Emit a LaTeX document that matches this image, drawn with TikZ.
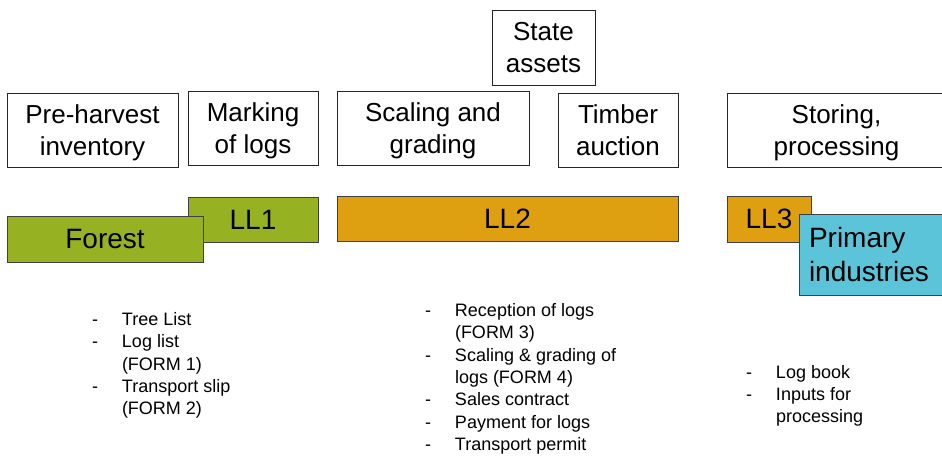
\documentclass[tikz,border=0pt]{standalone}
\usepackage{fontspec}
\setmainfont{Liberation Sans}
\definecolor{llgreen}{RGB}{150,178,34}
\definecolor{llorange}{RGB}{222,160,16}
\definecolor{llcyan}{RGB}{92,196,216}
\newcommand\tbtext[2]{\raisebox{6.7pt}[0pt][0pt]{\begin{tabular}[t]{@{}c@{}}#1\\#2\end{tabular}}}
\begin{document}
\begin{tikzpicture}[x=1pt,y=-1pt,
  topbox/.style={draw=black!85, line width=0.8pt, fill=white, anchor=north west,
    inner sep=0pt, outer sep=0pt, align=center, font=\fontsize{26}{32}\selectfont},
  levelbox/.style={draw=black!75, line width=0.8pt, anchor=north west,
    inner sep=0pt, outer sep=0pt, font=\fontsize{28}{34}\selectfont},
  doclist/.style={anchor=base west, inner sep=0pt, outer sep=0pt,
    font=\fontsize{18}{22.3}\selectfont}]
\useasboundingbox (0,0) rectangle (942,455);
\clip (0,0) rectangle (942,455);
% top boxes
\node[topbox, minimum width=171pt, minimum height=74pt] (pre) at (7,93) {\tbtext{Pre-harvest}{inventory}};
\node[topbox, minimum width=130pt, minimum height=74pt] (mark) at (188,91) {\tbtext{Marking}{of logs}};
\node[topbox, minimum width=103pt, minimum height=75pt] (state) at (492,10) {\tbtext{State}{assets}};
\node[topbox, minimum width=192pt, minimum height=74pt] (scale) at (337,91) {\tbtext{Scaling and}{grading}};
\node[topbox, minimum width=120pt, minimum height=74pt] (timber) at (558,93) {\tbtext{Timber}{auction}};
\node[topbox, minimum width=219pt, minimum height=74pt] (store) at (727,93) {\tbtext{Storing,}{processing}};
% level boxes
\node[levelbox, fill=llgreen, minimum width=130pt, minimum height=45pt] (ll1) at (188,197) {LL1};
\node[levelbox, fill=llgreen, minimum width=196pt, minimum height=46pt] (forest) at (7,216) {Forest};
\node[levelbox, fill=llorange, minimum width=341pt, minimum height=45pt] (ll2) at (337,196) {LL2};
\node[levelbox, fill=llorange, minimum width=84pt, minimum height=46pt] (ll3) at (727,196) {LL3};
\node[levelbox, fill=llcyan, minimum width=147pt, minimum height=81pt,
  text width=127pt, inner xsep=10pt, align=left] (prim) at (799,214) {Primary\\industries};
% document lists
\node[doclist] (list1) at (92,325.5) {\begin{tabular}[t]{@{}p{30pt}@{}l@{}}
-&Tree List\\
-&Log list\\
&(FORM 1)\\
-&Transport slip\\
&(FORM 2)
\end{tabular}};
\node[doclist] (list2) at (425,316.5) {\begin{tabular}[t]{@{}p{30pt}@{}l@{}}
-&Reception of logs\\
&(FORM 3)\\
-&Scaling \& grading of\\
&logs (FORM 4)\\
-&Sales contract\\
-&Payment for logs\\
-&Transport permit
\end{tabular}};
\node[doclist] (list3) at (746,378) {\begin{tabular}[t]{@{}p{30pt}@{}l@{}}
-&Log book\\
-&Inputs for\\
&processing
\end{tabular}};
\end{tikzpicture}
\end{document}
